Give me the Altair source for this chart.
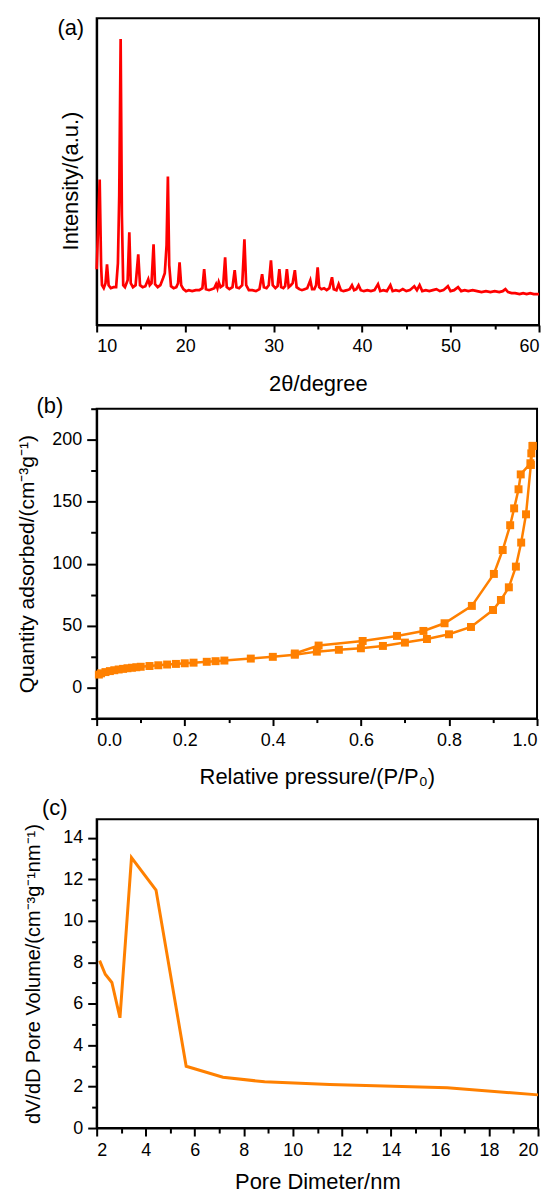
import altair as alt
import pandas as pd

# ---------------- (a) XRD pattern ----------------
xrd_2theta = [
    10.0, 10.15, 10.34, 10.5, 10.6, 10.8, 11.0, 11.17, 11.35, 11.6,
    11.9, 12.2, 12.4, 12.55, 12.71, 12.85, 13.0, 13.2, 13.5, 13.69,
    13.85, 14.1, 14.4, 14.7, 14.9, 15.2, 15.5, 15.83, 16.0, 16.2,
    16.43, 16.6, 16.9, 17.2, 17.5, 17.7, 17.9, 18.05, 18.2, 18.4,
    18.7, 19.0, 19.2, 19.37, 19.55, 19.8, 20.1, 20.4, 20.8, 21.2,
    21.6, 21.95, 22.15, 22.35, 22.7, 23.0, 23.3, 23.5, 23.65, 23.8,
    24.0, 24.3, 24.52, 24.7, 25.0, 25.35, 25.6, 25.8, 26.1, 26.45,
    26.7, 26.9, 27.2, 27.6, 28.0, 28.4, 28.7, 28.9, 29.2, 29.45,
    29.7, 29.9, 30.2, 30.45, 30.65, 30.85, 31.1, 31.3, 31.5, 31.7,
    31.95, 32.15, 32.4, 32.6, 32.9, 33.2, 33.5, 33.8, 34.15, 34.35,
    34.6, 34.8, 34.98, 35.15, 35.4, 35.7, 36.0, 36.3, 36.6, 36.8,
    37.1, 37.35, 37.6, 37.9, 38.3, 38.6, 38.86, 39.1, 39.35, 39.6,
    39.85, 40.2, 40.6, 41.0, 41.4, 41.8, 42.05, 42.4, 42.8, 43.2,
    43.45, 43.8, 44.2, 44.6, 45.0, 45.4, 45.9, 46.2, 46.5, 46.8,
    47.2, 47.6, 48.0, 48.4, 48.8, 49.2, 49.7, 50.0, 50.4, 50.85,
    51.2, 51.6, 52.0, 52.5, 53.0, 53.5, 54.0, 54.5, 55.0, 55.5,
    55.9, 56.2, 56.5, 56.9, 57.3, 57.8, 58.2, 58.6, 59.0, 59.4,
    59.8, 60.0,
]
xrd_intensity = [
    56, 95, 146, 60, 40, 37, 42, 61, 40, 37,
    38, 38, 62, 130, 287, 110, 40, 38, 45, 93,
    42, 38, 40, 71, 40, 38, 39, 46, 40, 42,
    81, 41, 38, 40, 47, 52, 80, 149, 60, 39,
    37, 38, 42, 63, 40, 36, 34, 35, 34, 35,
    35, 37, 56, 36, 35, 36, 37, 41, 37, 43,
    38, 40, 68, 38, 36, 38, 55, 38, 37, 40,
    86, 40, 35, 35, 34, 36, 51, 38, 37, 40,
    65, 40, 37, 39, 56, 38, 37, 39, 56, 38,
    40, 42, 55, 38, 36, 35, 36, 37, 45, 36,
    36, 40, 58, 38, 36, 37, 35, 37, 48, 36,
    35, 41, 35, 34, 35, 36, 40, 35, 36, 40,
    35, 34, 35, 34, 35, 41, 34, 35, 34, 40,
    34, 35, 34, 36, 34, 35, 39, 35, 40, 34,
    35, 34, 35, 36, 34, 35, 39, 34, 35, 38,
    34, 35, 34, 35, 34, 33, 34, 33, 34, 33,
    34, 36, 33, 32, 32, 31, 32, 31, 32, 31,
    31, 31,
]

# ---------------- (b) N2 isotherm ----------------
ads_p = [0.005, 0.01, 0.02, 0.03, 0.04, 0.05, 0.06, 0.07, 0.08, 0.09,
         0.10, 0.12, 0.14, 0.16, 0.18, 0.20, 0.22, 0.25, 0.27, 0.29,
         0.35, 0.40, 0.45, 0.50, 0.55, 0.60, 0.65, 0.70, 0.75, 0.80,
         0.85, 0.90, 0.918, 0.936, 0.952, 0.964, 0.975, 0.986, 0.99]
ads_q = [10.5, 11.5, 12.5, 13.3, 14.0, 14.6, 15.1, 15.6, 16.0, 16.4,
         16.8, 17.4, 18.0, 18.6, 19.1, 19.6, 20.1, 20.8, 21.3, 21.8,
         23.4, 24.8, 26.5, 29.0, 30.5, 31.7, 33.6, 36.3, 39.2, 43.0,
         48.9, 62.6, 70.7, 80.9, 97.6, 117.0, 139.8, 179.6, 195.0]
des_p = [0.99, 0.987, 0.985, 0.963, 0.958, 0.948, 0.939, 0.922, 0.902,
         0.852, 0.79, 0.742, 0.682, 0.604, 0.504, 0.45]
des_q = [195.0, 189.0, 181.0, 172.0, 160.0, 144.6, 131.0, 111.0, 91.7,
         65.9, 51.9, 45.7, 41.7, 37.6, 33.9, 27.5]

# ---------------- (c) pore size distribution ----------------
pore_d = [2.12, 2.35, 2.62, 2.95, 3.42, 4.42, 5.65, 7.15, 8.85, 11.5, 16.3, 20.0]
pore_dv = [8.08, 7.42, 7.02, 5.32, 13.05, 11.48, 2.98, 2.45, 2.23, 2.10, 1.94, 1.60]

# ticks
a_x_ticks = list(range(10, 61, 5))
b_x_ticks = [round(i * 0.1, 1) for i in range(11)]
b_y_ticks = list(range(-25, 226, 25))
c_x_ticks = list(range(2, 21))
c_y_ticks = list(range(0, 15))

FONT = "Liberation Sans"
RED = "#FF0000"
ORANGE = "#FF8000"


def axis(values, major_test, title, tx, ty, angle, fmt=None, major=8, minor=5, pad=6,
         show_labels=True, show_ticks=True, title_size=22):
    kw = dict(
        title=title, titleX=tx, titleY=ty, titleAngle=angle,
        titleBaseline="middle", titleAlign="center", titleFontSize=title_size,
        labelPadding=pad, grid=False,
    )
    if values is not None:
        kw["values"] = values
    if fmt:
        kw["format"] = fmt
    if show_labels:
        kw["labelExpr"] = f"({major_test}) ? datum.label : ''"
    else:
        kw["labels"] = False
    if show_ticks:
        kw["tickSize"] = {"condition": {"test": f"!({major_test})", "value": minor}, "value": major}
    else:
        kw["ticks"] = False
    return alt.Axis(**kw)


def panel_label(text, x, y):
    return alt.Chart(pd.DataFrame({"t": [text]})).mark_text(
        font=FONT, fontSize=22, align="center", baseline="middle", color="black"
    ).encode(text="t:N", x=alt.value(x), y=alt.value(y))


def spacer(h):
    return alt.Chart(pd.DataFrame({"s": [""]})).mark_text().encode(
        text="s:N"
    ).properties(width=10, height=h, view=alt.ViewBackground(stroke="transparent"))


# ---- panel (a)
WA, HA = 444, 308
xrd_df = pd.DataFrame({"tt": xrd_2theta, "I": xrd_intensity})
a_line = alt.Chart(xrd_df).mark_line(color=RED, strokeWidth=2.7).encode(
    x=alt.X("tt:Q", scale=alt.Scale(domain=[10, 60], nice=False, zero=False),
            axis=axis(a_x_ticks, "datum.value % 10 == 0", "2θ/degree", WA / 2, 59, 0, major=7, minor=4)),
    y=alt.Y("I:Q", scale=alt.Scale(domain=[0, 308], nice=False),
            axis=axis(None, "true", "Intensity/(a.u.)", -26, HA / 2 + 9, 270,
                      show_labels=False, show_ticks=False)),
)
panel_a = alt.layer(a_line, panel_label("(a)", -26, 10)).properties(width=WA, height=HA)

# ---- panel (b)
WB, HB = 442, 311
iso_df = pd.concat([
    pd.DataFrame({"p": ads_p, "q": ads_q, "branch": "adsorption", "i": list(range(len(ads_p)))}),
    pd.DataFrame({"p": des_p, "q": des_q, "branch": "desorption", "i": list(range(len(des_p)))}),
])
b_line = alt.Chart(iso_df).mark_line(
    color=ORANGE, strokeWidth=2.5,
    point=alt.OverlayMarkDef(shape="square", size=64, filled=True, color=ORANGE, opacity=1),
).encode(
    x=alt.X("p:Q", scale=alt.Scale(domain=[0, 1], nice=False),
            axis=axis(b_x_ticks, "round(datum.value * 10) % 2 == 0", "Relative pressure/(P/P₀)",
                      WB / 2, 58, 0, fmt=".1f", major=7, minor=4)),
    y=alt.Y("q:Q", scale=alt.Scale(domain=[-25, 225], nice=False),
            axis=axis(b_y_ticks, "datum.value % 50 == 0", "Quantity adsorbed/(cm⁻³g⁻¹)",
                      -69, HB / 2, 270, major=10, minor=6, pad=5, title_size=21)),
    detail="branch:N",
    order="i:Q",
)
panel_b = alt.layer(b_line, panel_label("(b)", -47, -3)).properties(width=WB, height=HB)

# ---- panel (c)
WC, HC = 443, 310
pore_df = pd.DataFrame({"d": pore_d, "v": pore_dv})
c_line = alt.Chart(pore_df).mark_line(color=ORANGE, strokeWidth=3).encode(
    x=alt.X("d:Q", scale=alt.Scale(domain=[2, 20], nice=False, zero=False),
            axis=axis(c_x_ticks, "datum.value % 2 == 0", "Pore Dimeter/nm", WC / 2, 54, 0, major=8, minor=5)),
    y=alt.Y("v:Q", scale=alt.Scale(domain=[0, 14.9], nice=False),
            axis=axis(c_y_ticks, "datum.value % 2 == 0", "dV/dD Pore Volume/(cm⁻³g⁻¹nm⁻¹)",
                      -63, HC / 2, 270, major=9, minor=5, pad=5, title_size=20)),
)
panel_c = alt.layer(c_line, panel_label("(c)", -42, -11)).properties(width=WC, height=HC)

chart = alt.vconcat(
    panel_a, spacer(84), panel_b, spacer(101), panel_c, spacing=0, bounds="flush"
).properties(
    padding={"left": 8, "top": 6, "right": 0, "bottom": 0}
).configure_view(
    stroke="black", strokeWidth=2
).configure_axis(
    domainColor="black", domainWidth=2, tickColor="black", tickWidth=2,
    labelFont=FONT, labelFontSize=18, labelColor="black",
    titleFont=FONT, titleFontWeight="normal", titleColor="black",
)

chart.save("out.html", embed_options={"renderer": "svg", "actions": False})
